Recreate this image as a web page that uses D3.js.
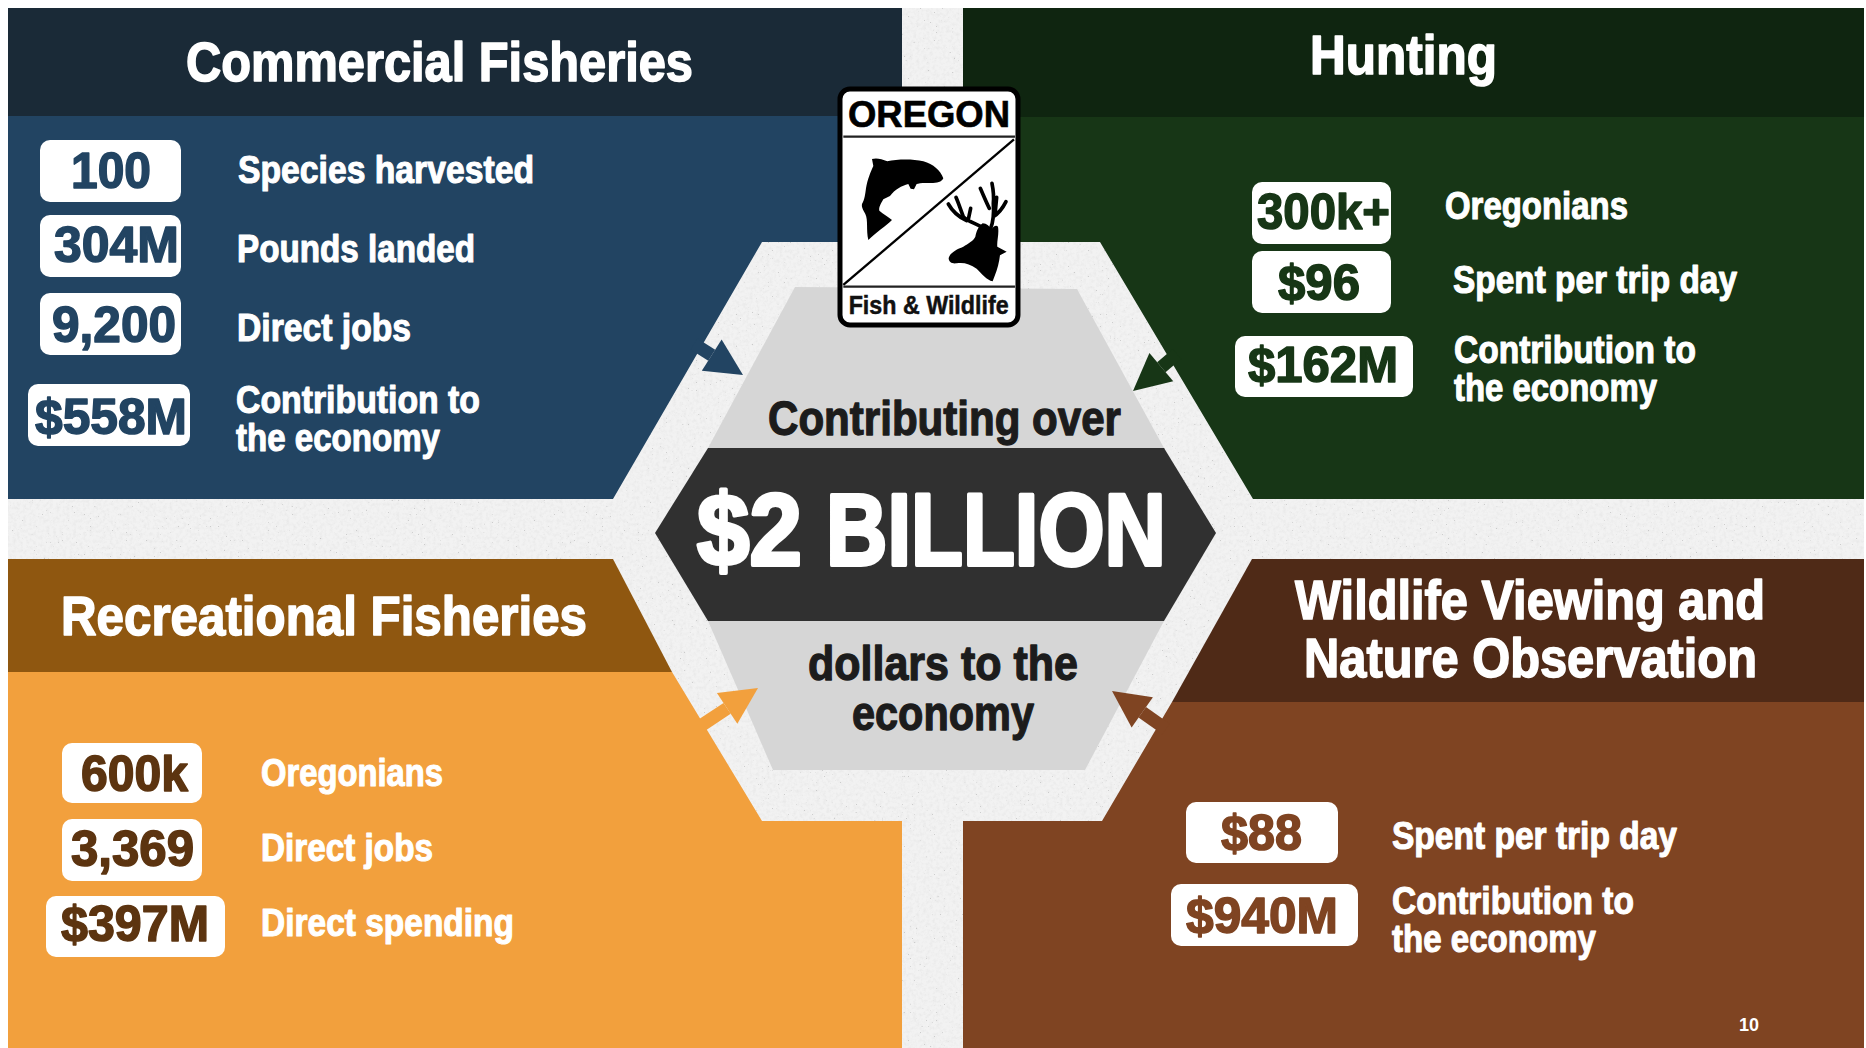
<!DOCTYPE html>
<html>
<head>
<meta charset="utf-8">
<title>Oregon fish and wildlife economy</title>
<script src="https://cdn.jsdelivr.net/npm/d3@7/dist/d3.min.js"></script>
<style>
html,body{margin:0;padding:0;background:#fff;overflow:hidden}
svg{display:block}
text{font-family:"Liberation Sans Narrow","Liberation Sans",sans-serif;font-weight:700}
</style>
</head>
<body>
<svg id="slide" width="1866" height="1048"></svg>
<script>
// Sector names and their headline figures
const commercialValues = ["100", "304M", "9,200", "$558M"];
const commercialLabels = [["Species harvested"], ["Pounds landed"], ["Direct jobs"], ["Contribution to", "the economy"]];
const huntingValues = ["300k+", "$96", "$162M"];
const huntingLabels = [["Oregonians"], ["Spent per trip day"], ["Contribution to", "the economy"]];
const recreationalValues = ["600k", "3,369", "$397M"];
const recreationalLabels = [["Oregonians"], ["Direct jobs"], ["Direct spending"]];
const wildlifeValues = ["$88", "$940M"];
const wildlifeLabels = [["Spent per trip day"], ["Contribution to", "the economy"]];

const W = 1866, H = 1048;
const svg = d3.select("#slide");
const defs = svg.append("defs");

// Paper grain: soft mottling plus sparse dark flecks
const grain = defs.append("filter").attr("id", "grain").attr("x", 0).attr("y", 0).attr("width", "100%").attr("height", "100%");
grain.append("feTurbulence").attr("type", "fractalNoise").attr("baseFrequency", 0.3).attr("numOctaves", 3).attr("seed", 4).attr("result", "n");
grain.append("feColorMatrix").attr("in", "n").attr("type", "matrix")
  .attr("values", "0 0 0 0 0.6  0 0 0 0 0.6  0 0 0 0 0.6  1.6 0 0 0 -0.66");
const fleck = defs.append("filter").attr("id", "fleck").attr("x", 0).attr("y", 0).attr("width", "100%").attr("height", "100%");
fleck.append("feTurbulence").attr("type", "fractalNoise").attr("baseFrequency", 0.5).attr("numOctaves", 2).attr("seed", 11).attr("result", "n");
fleck.append("feColorMatrix").attr("in", "n").attr("type", "matrix")
  .attr("values", "0 0 0 0 0.4  0 0 0 0 0.4  0 0 0 0 0.4  14 0 0 0 -10.2");

const poly = d3.line();

// Paper background inside the slide margin
svg.append("rect").attr("x", 8).attr("y", 8).attr("width", W - 10).attr("height", H - 8).attr("fill", "#f2f2f2");
svg.append("rect").attr("x", 8).attr("y", 8).attr("width", W - 10).attr("height", H - 8).attr("filter", "url(#grain)").attr("opacity", 0.3);
svg.append("rect").attr("x", 8).attr("y", 8).attr("width", W - 10).attr("height", H - 8).attr("filter", "url(#fleck)").attr("opacity", 0.5);

// Four sector panels, each a body and a darker header
const panelShapes = [
  { fill: "#224462", pts: [[8,116],[902,116],[902,242],[762,242],[613,499],[8,499]] },
  { fill: "#1a2a37", pts: [[8,8],[902,8],[902,116],[8,116]] },
  { fill: "#173616", pts: [[963,117],[1864,117],[1864,499],[1253,499],[1100,242],[963,242]] },
  { fill: "#0f2510", pts: [[963,8],[1864,8],[1864,117],[963,117]] },
  { fill: "#f2a03d", pts: [[8,672],[672,672],[762,821],[902,821],[902,1048],[8,1048]] },
  { fill: "#8f5710", pts: [[8,559],[613,559],[672,672],[8,672]] },
  { fill: "#7f4422", pts: [[1172,702],[1864,702],[1864,1048],[963,1048],[963,821],[1102,821]] },
  { fill: "#4f2a17", pts: [[1252,559],[1864,559],[1864,702],[1172,702]] }
];
svg.append("g").selectAll("path").data(panelShapes).join("path")
  .attr("d", d => poly(d.pts) + "Z").attr("fill", d => d.fill);

// Central hexagon: light plate with the dark banner across it
svg.append("path").attr("d", poly([[795,287],[1077,289],[1164,448],[1164,621],[1085,770],[773,770],[708,621],[708,448]]) + "Z").attr("fill", "#d6d6d6");
svg.append("path").attr("d", poly([[708,448],[1164,448],[1216,533],[1164,621],[708,621],[655,533]]) + "Z").attr("fill", "#303030");

// Arrows from each sector into the hexagon
const arrowSpecs = [
  { fill: "#224462", tail: [694,344], tip: [743,375] },
  { fill: "#173616", tail: [1177,354], tip: [1133,391] },
  { fill: "#f2a03d", tail: [699,727], tip: [758,688] },
  { fill: "#7f4422", tail: [1166,729], tip: [1112,691] }
];
function arrowGeom(d) {
  const dx = d.tip[0] - d.tail[0], dy = d.tip[1] - d.tail[1], L = Math.hypot(dx, dy);
  const ux = dx / L, uy = dy / L, hl = 37, hw = 18.5;
  const b = [d.tip[0] - ux * hl, d.tip[1] - uy * hl];
  return { b, head: [d.tip, [b[0] - uy * hw, b[1] + ux * hw], [b[0] + uy * hw, b[1] - ux * hw]] };
}
const arrows = svg.append("g").selectAll("g").data(arrowSpecs).join("g");
arrows.append("path").attr("d", d => poly([d.tail, arrowGeom(d).b]))
  .attr("stroke", d => d.fill).attr("stroke-width", 13).attr("fill", "none");
arrows.append("path").attr("d", d => poly(arrowGeom(d).head) + "Z").attr("fill", d => d.fill);

// Draws one line of text fitted to a horizontal span
function fitted(g, str, x0, x1, base, size, fill, weight) {
  return g.append("text")
    .attr("x", x0).attr("y", base)
    .attr("textLength", x1 - x0).attr("lengthAdjust", "spacingAndGlyphs")
    .attr("font-size", size).attr("fill", fill)
    .attr("stroke", fill).attr("stroke-width", weight)
    .attr("stroke-linejoin", "round")
    .text(str);
}

// Panel contents: title lines, value badges, row labels
const badgeLayouts = {
  commercial: [
    { box: [40,140,141,62],  text: [71,151,188] },
    { box: [40,215,141,62],  text: [54,179,262] },
    { box: [40,293,141,62],  text: [52,176,342] },
    { box: [28,384,162,62],  text: [35,187,434] }
  ],
  hunting: [
    { box: [1252,182,139,62], text: [1257,1390,229] },
    { box: [1252,251,139,62], text: [1278,1360,300] },
    { box: [1235,336,178,61], text: [1248,1398,382] }
  ],
  recreational: [
    { box: [62,743,140,60],  text: [81,188,791] },
    { box: [62,819,140,62],  text: [71,194,866] },
    { box: [46,896,179,61],  text: [61,209,941] }
  ],
  wildlife: [
    { box: [1186,802,152,61], text: [1221,1302,850] },
    { box: [1171,884,187,62], text: [1186,1338,933] }
  ]
};
const labelLayouts = {
  commercial: [[[238,534,183]], [[237,475,262]], [[237,411,341]], [[236,480,413],[236,440,451]]],
  hunting: [[[1445,1628,219]], [[1453,1737,293]], [[1454,1696,363],[1454,1657,401]]],
  recreational: [[[261,443,786]], [[261,433,861]], [[261,514,936]]],
  wildlife: [[[1392,1677,849]], [[1392,1634,914],[1392,1596,952]]]
};
const sectors = [
  { key: "commercial", ink: "#224462", values: commercialValues, labels: commercialLabels,
    title: [["Commercial Fisheries", 186, 693, 81]] },
  { key: "hunting", ink: "#173616", values: huntingValues, labels: huntingLabels,
    title: [["Hunting", 1310, 1497, 74]] },
  { key: "recreational", ink: "#5c3410", values: recreationalValues, labels: recreationalLabels,
    title: [["Recreational Fisheries", 61, 587, 635]] },
  { key: "wildlife", ink: "#7f4422", values: wildlifeValues, labels: wildlifeLabels,
    title: [["Wildlife Viewing and", 1295, 1765, 619], ["Nature Observation", 1304, 1757, 677]] }
];
sectors.forEach(s => {
  const g = svg.append("g").attr("class", s.key);
  s.title.forEach(t => fitted(g, t[0], t[1], t[2], t[3], 56, "#fff", 1.6));
  const layout = badgeLayouts[s.key];
  g.selectAll("rect").data(s.values).join("rect")
    .attr("x", (d, i) => layout[i].box[0]).attr("y", (d, i) => layout[i].box[1])
    .attr("width", (d, i) => layout[i].box[2]).attr("height", (d, i) => layout[i].box[3])
    .attr("rx", 10).attr("fill", "#fff");
  s.values.forEach((v, i) => {
    const t = layout[i].text;
    fitted(g, v, t[0], t[1], t[2], 50, s.ink, 1.5);
  });
  s.labels.forEach((lines, i) => lines.forEach((line, j) => {
    const p = labelLayouts[s.key][i][j];
    fitted(g, line, p[0], p[1], p[2], 38, "#fff", 1.1);
  }));
});

// Hexagon text
const centre = svg.append("g");
fitted(centre, "Contributing over", 768, 1121, 435, 48, "#1c1c1c", 1.3);
// The headline gets a separate fit per word so the gap between them stays narrow
const headline = centre.append("text").attr("y", 565).attr("font-size", 102)
  .attr("fill", "#fff").attr("stroke", "#fff").attr("stroke-width", 4).attr("stroke-linejoin", "round");
headline.append("tspan").attr("x", 697).attr("textLength", 131).attr("lengthAdjust", "spacingAndGlyphs").text("$2 ");
headline.append("tspan").attr("x", 826).attr("textLength", 340).attr("lengthAdjust", "spacingAndGlyphs").text("BILLION");
fitted(centre, "dollars to the", 808, 1078, 680, 48, "#1c1c1c", 1.3);
fitted(centre, "economy", 852, 1034, 730, 48, "#1c1c1c", 1.3);

// Slide number
svg.append("text").attr("x", 1749).attr("y", 1031).attr("text-anchor", "middle")
  .attr("font-size", 18).attr("fill", "#fff").style("font-family", "Liberation Sans").text("10");

// Agency badge: drawn on a 3x grid so the silhouettes can use whole numbers
const logo = svg.append("g").attr("transform", "translate(800,60) scale(0.3333)");
logo.append("rect").attr("x", 120).attr("y", 87).attr("width", 534).attr("height", 708).attr("rx", 30)
  .attr("fill", "#fff").attr("stroke", "#000").attr("stroke-width", 15);
logo.append("path").attr("d", "M130 230H645M130 680H645").attr("stroke", "#222").attr("stroke-width", 7).attr("fill", "none");
logo.append("path").attr("d", "M130 675L642 238").attr("stroke", "#000").attr("stroke-width", 7).attr("fill", "none");
logo.append("text").attr("x", 144).attr("y", 200).attr("textLength", 486).attr("lengthAdjust", "spacingAndGlyphs")
  .attr("font-size", 112).attr("fill", "#000").attr("stroke", "#000").attr("stroke-width", 2)
  .style("font-family", "Liberation Sans").text("OREGON");
logo.append("text").attr("x", 146).attr("y", 762).attr("textLength", 480).attr("lengthAdjust", "spacingAndGlyphs")
  .attr("font-size", 76).attr("fill", "#111").attr("stroke", "#111").attr("stroke-width", 1.5)
  .style("font-family", "Liberation Sans").text("Fish & Wildlife");
// Leaping salmon
logo.append("path").attr("fill", "#000")
  .attr("d", "M205 540C198 510 205 480 196 462C190 450 184 442 186 432C194 420 196 400 198 385C202 360 212 335 220 318L216 297C230 293 245 297 262 304C290 298 335 296 370 304C400 312 422 332 430 355C425 368 405 370 385 369C370 368 355 370 350 372L342 388L332 386L325 372C305 377 285 388 270 408L250 418C242 432 236 442 238 452C250 462 265 470 276 480C262 495 225 520 205 540Z");
// Elk head and antlers
logo.append("path").attr("fill", "#000")
  .attr("d", "M446 594C450 578 470 568 490 560C505 550 520 543 526 530C530 512 535 500 548 490C560 490 570 500 574 508C580 500 588 494 594 500C598 520 590 545 592 560L620 575L600 586C598 605 592 630 584 648L578 664C560 660 546 642 530 626C510 612 490 606 470 610C456 612 446 606 446 594Z");
logo.append("path").attr("fill", "none").attr("stroke", "#000").attr("stroke-width", 11).attr("stroke-linecap", "round").attr("stroke-linejoin", "round")
  .attr("d", "M552 505C530 490 505 486 490 470C482 450 476 430 468 412M445 432C455 450 475 470 500 482M505 478L512 445M572 505C582 480 582 460 580 430C582 410 580 390 576 370M568 445C558 425 550 405 541 385M580 470C597 460 608 445 618 425M586 455L590 412");
</script>
</body>
</html>
